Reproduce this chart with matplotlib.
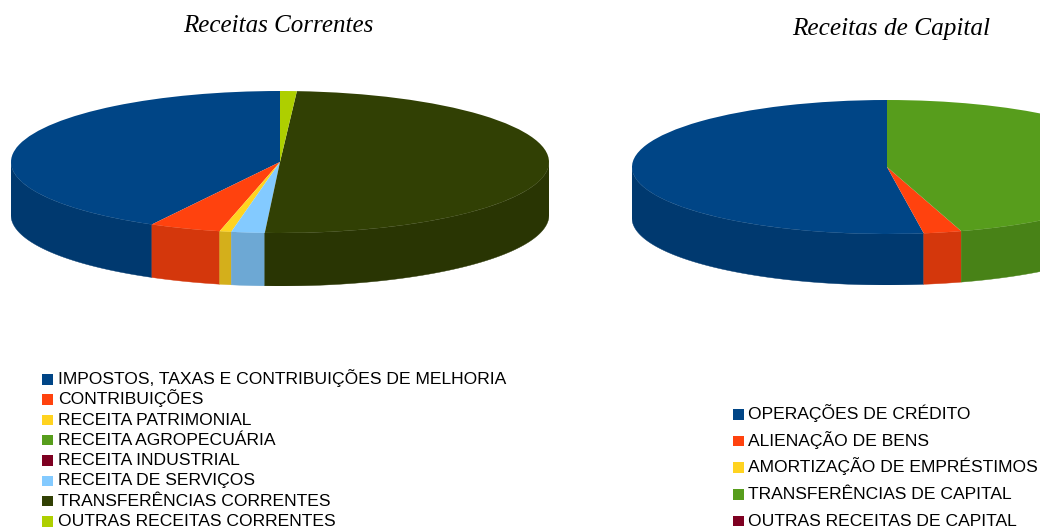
import numpy as np
import matplotlib
matplotlib.use("Agg")
import matplotlib.pyplot as plt
from matplotlib.colors import to_rgb
from matplotlib.patches import Rectangle

W, H = 1040, 529

corr_labels = ["IMPOSTOS, TAXAS E CONTRIBUIÇÕES DE MELHORIA", "CONTRIBUIÇÕES", "RECEITA PATRIMONIAL",
               "RECEITA AGROPECUÁRIA", "RECEITA INDUSTRIAL", "RECEITA DE SERVIÇOS",
               "TRANSFERÊNCIAS CORRENTES", "OUTRAS RECEITAS CORRENTES"]
corr_values = [42.1, 4.3, 0.7, 0.0, 0.0, 2.0, 49.9, 1.0]
corr_colors = ["#004586", "#ff420e", "#ffd320", "#579d1c", "#7e0021", "#83caff", "#314004", "#aecf00"]

cap_labels = ["OPERAÇÕES DE CRÉDITO", "ALIENAÇÃO DE BENS", "AMORTIZAÇÃO DE EMPRÉSTIMOS",
              "TRANSFERÊNCIAS DE CAPITAL", "OUTRAS RECEITAS DE CAPITAL"]
cap_values = [52.3, 2.4, 0.0, 45.3, 0.0]
cap_colors = ["#004586", "#ff420e", "#ffd320", "#579d1c", "#7e0021"]

SHADE = 0.83


def pie3d(fig, values, colors, cx, cy, rx, ry, depth):
    left = (cx - rx) / W
    bottom = (H - (cy + ry + depth)) / H
    ax = fig.add_axes([left, bottom, 2 * rx / W, (2 * ry + depth) / H])
    wedges, _ = ax.pie(values, colors=colors, startangle=90, counterclock=True, radius=1.0)
    for w in wedges:
        w.set_zorder(3)
    ax.set_aspect("auto")
    ax.set_xlim(-1, 1)
    dz = depth / ry
    ax.set_ylim(-1 - dz, 1)
    total = sum(values)
    start = 90.0
    for v, c in zip(values, colors):
        end = start + 360.0 * v / total
        a, b = max(start, 180.0), min(end, 360.0)
        if b > a:
            t = np.radians(np.linspace(a, b, 120))
            xs = np.cos(t)
            ys = np.sin(t)
            shade = tuple(SHADE * k for k in to_rgb(c))
            ax.fill(np.r_[xs, xs[::-1]], np.r_[ys, ys[::-1] - dz], color=shade, lw=0.3, zorder=2)
        start = end
    ax.patch.set_alpha(0)
    return ax


def legend(overlay, labels, colors, x_box, x_text, y0, step, size):
    for i, (lab, c) in enumerate(zip(labels, colors)):
        y = y0 + i * step
        overlay.add_patch(Rectangle((x_box, y - 5), 10.5, 10.5, facecolor=c, edgecolor="none"))
        overlay.text(x_text, y + 5, lab, fontsize=size, family="Liberation Sans", color="black",
                     va="baseline", ha="left")


fig = plt.figure(figsize=(W / 100, H / 100), dpi=100, facecolor="white")
overlay = fig.add_axes([0, 0, 1, 1])
overlay.set_xlim(0, W)
overlay.set_ylim(H, 0)
overlay.axis("off")

pie3d(fig, corr_values, corr_colors, 280, 162, 269, 71, 53)
pie3d(fig, cap_values, cap_colors, 887, 167, 255, 67, 51)

overlay.text(278, 26, "Receitas Correntes", fontsize=18, family="Liberation Serif", style="italic",
             color="black", ha="center", va="center")
overlay.text(891, 29, "Receitas de Capital", fontsize=18.2, family="Liberation Serif", style="italic",
             color="black", ha="center", va="center")

legend(overlay, corr_labels, corr_colors, 42, 58, 379, 20.3, 12.6)
legend(overlay, cap_labels, cap_colors, 733, 748, 414, 26.7, 12.6)

fig.savefig("out.png", dpi=100, facecolor="white")
